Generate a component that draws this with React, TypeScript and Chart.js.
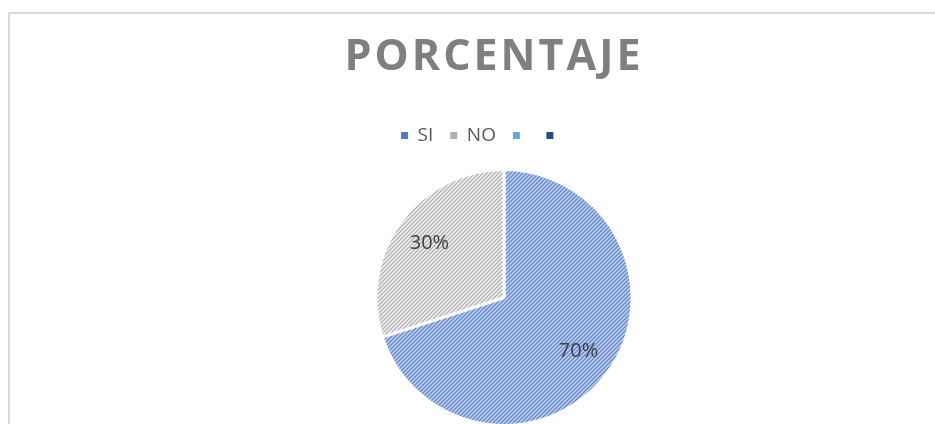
import React, { useEffect, useRef } from 'react';
import { Chart, registerables } from 'chart.js';

Chart.register(...registerables);

// ---- data ----
const categories: string[] = ['SI', 'NO', '', ''];
const percentages: number[] = [70, 30, 0, 0];
const chartTitle = 'PORCENTAJE';

// ---- styles ----
const patternBg = ['#c2d1f0', '#f2f2f2', '#bdd7ee', '#b4c2dd'];
const patternLine = ['#6488d0', '#b3b3b3', '#5b9bd5', '#264478'];
const legendColors = ['#4f7bcc', '#b0b0b0', '#6aa6dc', '#2b4a80'];

function makePattern(bg: string, line: string): CanvasPattern | string {
  const s = 4;
  const c = document.createElement('canvas');
  c.width = s;
  c.height = s;
  const x = c.getContext('2d');
  if (!x) return bg;
  x.fillStyle = bg;
  x.fillRect(0, 0, s, s);
  x.strokeStyle = line;
  x.lineWidth = 1.3;
  x.beginPath();
  x.moveTo(-1, s + 1);
  x.lineTo(s + 1, -1);
  x.moveTo(-1, 1);
  x.lineTo(1, -1);
  x.moveTo(s - 1, s + 1);
  x.lineTo(s + 1, s - 1);
  x.stroke();
  return x.createPattern(c, 'repeat') || bg;
}

const titlePlugin = {
  id: 'xlTitle',
  afterDraw(chart: any) {
    const ctx = chart.ctx as CanvasRenderingContext2D;
    ctx.save();
    ctx.font = '700 43px "Open Sans"';
    (ctx as any).letterSpacing = '3px';
    ctx.fillStyle = '#7f7f7f';
    ctx.textAlign = 'center';
    ctx.textBaseline = 'alphabetic';
    ctx.fillText(chartTitle, chart.width / 2 - 10, 56);
    ctx.restore();
  },
};

const legendShiftPlugin = {
  id: 'legendShift',
  afterLayout(chart: any) {
    const lg = chart.legend;
    if (lg) {
      lg.left -= 22;
      lg.right -= 22;
      lg.top -= 13;
      lg.bottom -= 13;
    }
  },
};

const valueLabelPlugin = {
  id: 'valueLabels',
  afterDatasetsDraw(chart: any) {
    const ctx = chart.ctx as CanvasRenderingContext2D;
    const meta = chart.getDatasetMeta(0);
    ctx.save();
    ctx.font = '20px "Open Sans"';
    ctx.fillStyle = '#404040';
    ctx.textAlign = 'center';
    ctx.textBaseline = 'middle';
    meta.data.forEach((arc: any, i: number) => {
      const v = percentages[i];
      if (!v) return;
      const p = arc.getProps(['x', 'y', 'startAngle', 'endAngle', 'outerRadius'], true);
      const mid = (p.startAngle + p.endAngle) / 2;
      const r = p.outerRadius * 0.72;
      ctx.fillText(v + '%', p.x + Math.cos(mid) * r, p.y + Math.sin(mid) * r);
    });
    ctx.restore();
  },
};

export default function App() {
  const ref = useRef<HTMLCanvasElement | null>(null);

  useEffect(() => {
    if (!ref.current) return;
    const fills = categories.map((_, i) => makePattern(patternBg[i], patternLine[i]));
    const chart = new Chart(ref.current, {
      type: 'pie',
      data: {
        labels: categories,
        datasets: [
          {
            data: percentages,
            backgroundColor: fills as any,
            borderColor: '#ffffff',
            borderWidth: 3,
          },
        ],
      },
      options: {
        responsive: false,
        animation: false,
        events: [],
        layout: { padding: { top: 108, bottom: 0, left: 0, right: 0 } },
        plugins: {
          title: { display: false },
          tooltip: { enabled: false },
          legend: {
            display: true,
            position: 'top',
            labels: {
              boxWidth: 7,
              boxHeight: 7,
              padding: 17,
              color: '#595959',
              font: { size: 19, family: '"Open Sans"' },
              generateLabels: (c: any) => {
                const base = (Chart as any).overrides.pie.plugins.legend.labels.generateLabels(c);
                return base.map((it: any, i: number) => ({
                  ...it,
                  fillStyle: legendColors[i],
                  strokeStyle: legendColors[i],
                  lineWidth: 0,
                  hidden: false,
                }));
              },
            },
          },
        },
      },
      plugins: [titlePlugin, legendShiftPlugin, valueLabelPlugin],
    });
    return () => chart.destroy();
  }, []);

  return (
    <div style={{ position: 'fixed', left: 0, top: 0, width: 935, height: 424, overflow: 'hidden', background: '#ffffff' }}>
      <div
        style={{
          position: 'absolute',
          left: 8,
          top: 12,
          width: 1000,
          height: 440,
          border: '2px solid #d9d9d9',
          boxSizing: 'border-box',
          background: '#ffffff',
        }}
      >
        <canvas ref={ref} width={988} height={413} style={{ display: 'block', width: 988, height: 413 }} />
      </div>
    </div>
  );
}
